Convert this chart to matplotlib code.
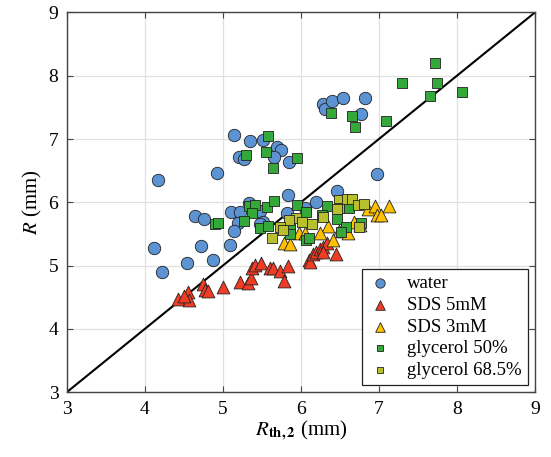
import matplotlib
matplotlib.use("Agg")
import matplotlib.pyplot as plt

plt.rcParams['font.family'] = ['Liberation Serif', 'DejaVu Serif']
plt.rcParams['mathtext.fontset'] = 'stix'

# data (mm)
water_x = [4.17, 5.15, 5.35, 5.52, 5.69, 5.75, 5.21, 5.27, 5.66, 5.85, 4.93, 5.83, 4.64, 4.76,
           5.11, 5.22, 5.34, 5.48, 5.19, 5.15, 5.52, 5.48, 4.12, 4.72, 5.09, 4.54, 4.88, 4.22,
           5.82, 6.98, 6.46, 6.20, 6.05, 6.29, 6.31, 6.40, 6.54, 6.82, 6.77]
water_y = [6.36, 7.06, 6.97, 6.98, 6.88, 6.83, 6.71, 6.68, 6.71, 6.63, 6.46, 6.12, 5.79, 5.74,
           5.84, 5.84, 5.99, 5.86, 5.68, 5.55, 5.69, 5.66, 5.28, 5.31, 5.33, 5.04, 5.09, 4.90,
           5.83, 6.45, 6.18, 6.01, 5.91, 7.55, 7.48, 7.60, 7.65, 7.64, 7.40]

sds5_x = [4.43, 4.56, 4.57, 4.50, 4.75, 4.77, 4.81, 5.00, 5.22, 5.32, 5.36, 5.37, 5.41, 5.49,
          5.60, 5.64, 5.73, 5.83, 5.78, 6.10, 6.12, 6.16, 6.20, 6.25, 6.29, 6.33, 6.28, 6.45]
sds5_y = [4.47, 4.59, 4.45, 4.52, 4.71, 4.62, 4.60, 4.66, 4.74, 4.72, 4.80, 4.97, 5.01, 5.04,
          4.97, 4.97, 4.92, 4.99, 4.76, 5.09, 5.06, 5.19, 5.22, 5.27, 5.30, 5.35, 5.22, 5.18]

sds3_x = [6.86, 6.95, 6.98, 7.03, 7.13, 6.68, 6.76, 6.35, 6.24, 6.49, 6.54, 6.61, 6.41, 5.97,
          6.05, 5.78, 5.86]
sds3_y = [5.89, 5.94, 5.80, 5.80, 5.94, 5.69, 5.64, 5.63, 5.52, 5.54, 5.56, 5.51, 5.40, 5.51,
          5.52, 5.36, 5.34]

gly50_x = [5.58, 5.30, 5.55, 5.64, 5.95, 5.34, 5.41, 5.38, 5.56, 5.66, 5.95, 4.90, 4.94, 5.27,
           5.48, 5.58, 5.86, 5.86, 6.07, 6.33, 6.27, 6.46, 6.62, 6.58, 6.52, 6.77, 6.07, 6.11,
           6.39, 6.66, 6.69, 7.09, 7.72, 7.30, 7.74, 7.65, 8.06]
gly50_y = [7.05, 6.74, 6.80, 6.55, 6.70, 5.94, 5.96, 5.83, 5.93, 6.02, 5.96, 5.66, 5.68, 5.70,
           5.59, 5.63, 5.59, 5.50, 5.85, 5.94, 5.80, 5.73, 5.91, 5.61, 5.53, 5.68, 5.40, 5.43,
           7.41, 7.36, 7.19, 7.28, 8.20, 7.89, 7.88, 7.68, 7.74]

gly68_x = [6.49, 6.49, 6.46, 6.59, 6.65, 6.73, 6.81, 6.29, 5.94, 5.85, 6.02, 6.14, 6.75, 5.73,
           5.77, 5.63]
gly68_y = [6.04, 5.91, 5.89, 6.05, 6.05, 5.96, 5.97, 5.77, 5.76, 5.72, 5.69, 5.66, 5.61, 5.61,
           5.56, 5.44]

fig = plt.figure(figsize=(5.51, 4.57), dpi=100)
ax = fig.add_axes([0.121, 0.1416, 0.850, 0.8313])

ax.plot([3, 9], [3, 9], color='black', lw=1.5, zorder=1)

ec = '#222222'
ax.scatter(water_x, water_y, s=80, marker='o', c='#5b93d3', edgecolors=ec, linewidths=0.6,
           label='water', zorder=3)
ax.scatter(sds5_x, sds5_y, s=85, marker='^', c='#f03c24', edgecolors=ec, linewidths=0.6,
           label='SDS 5mM', zorder=3)
ax.scatter(sds3_x, sds3_y, s=85, marker='^', c='#ffc000', edgecolors=ec, linewidths=0.6,
           label='SDS 3mM', zorder=3)
ax.scatter(gly50_x, gly50_y, s=42, marker='s', c='#35a83a', edgecolors=ec, linewidths=0.6,
           label='glycerol 50%', zorder=3)
ax.scatter(gly68_x, gly68_y, s=42, marker='s', c='#b8c12c', edgecolors=ec, linewidths=0.6,
           label='glycerol 68.5%', zorder=3)

ax.set_xlim(3, 9)
ax.set_ylim(3, 9)
ax.set_xticks(range(3, 10))
ax.set_yticks(range(3, 10))
ax.grid(True, color='#e0e0e0', lw=0.9)
ax.set_axisbelow(True)
ax.tick_params(direction='in', top=True, right=True, length=4, labelsize=14,
               color='#444444', pad=6)
for sp in ax.spines.values():
    sp.set_color('#444444')
    sp.set_linewidth(1.0)

ax.set_xlabel(r'$R_{\mathbf{th,2}}$ (mm)', fontsize=15, labelpad=1)
ax.set_ylabel(r'$R$ (mm)', fontsize=15, labelpad=3)

leg = ax.legend(loc='lower right', fontsize=13.5, fancybox=False, framealpha=1,
                edgecolor='#222222', borderaxespad=0.4, handletextpad=0.8,
                handlelength=1.3, markerscale=0.75, labelspacing=0.25, borderpad=0.3)
leg.get_frame().set_linewidth(0.9)

fig.savefig('out.png', dpi=100)
